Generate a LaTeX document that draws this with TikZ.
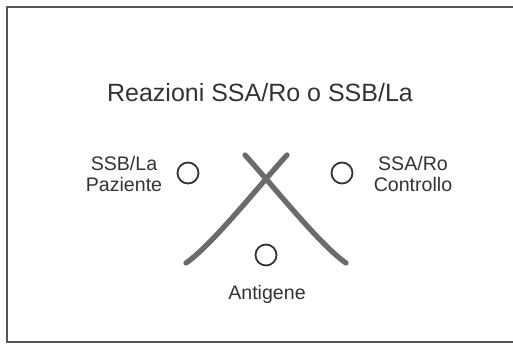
\documentclass[tikz,border=0pt]{standalone}
\usepackage{fontspec}
\setmainfont{Liberation Sans}
\usetikzlibrary{positioning}

\definecolor{framegray}{HTML}{555555}
\definecolor{strokegray}{HTML}{6B6B6B}
\definecolor{textgray}{HTML}{333333}

\begin{document}
\begin{tikzpicture}[x=1pt,y=-1pt,
			well/.style={circle,draw=textgray,line width=1.8pt,minimum size=21pt,inner sep=0pt},
			lab/.style={text=textgray,font=\fontsize{19.6}{21.5}\selectfont,align=center,inner sep=0pt},
			arc/.style={draw=strokegray,line width=5.3pt,line cap=round}]
			\useasboundingbox (0,0) rectangle (513,343);
			\draw[framegray,line width=2pt] (7,7) rectangle (518,342);
			\node[text=textgray,font=\fontsize{25}{27}\selectfont,inner sep=0pt] (title) at (260,93) {Reazioni SSA/Ro o SSB/La};
			% wells
			\node[well] (paz) at (188,173) {};
			\node[well] (ctrl) at (342,173) {};
			\node[well] (ant) at (266,255) {};
			% labels
			\node[lab] (pazlab) at (124,174) {SSB/La\\Paziente};
			\node[lab] (ctrllab) at (413,174) {SSA/Ro\\Controllo};
			\node[lab] (antlab) at (267,294) {Antigene};
			% precipitation lines
			\coordinate (a1) at (245,155);
			\coordinate (a2) at (346,263);
			\coordinate (b1) at (287,155);
			\coordinate (b2) at (186,263);
			\draw[arc] (a1) .. controls (275,188) and (320,245) .. (a2);
			\draw[arc] (b1) .. controls (257,188) and (212,245) .. (b2);
\end{tikzpicture}
\end{document}
